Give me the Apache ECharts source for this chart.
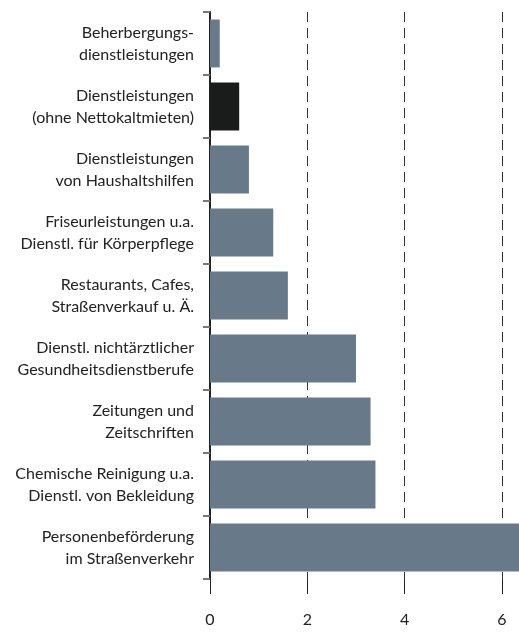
<!DOCTYPE html>
<html><head><meta charset="utf-8">
<script src="https://cdn.jsdelivr.net/npm/echarts@6/dist/echarts.min.js"></script>
<style>html,body{margin:0;padding:0;background:#fff;overflow:hidden}#c{width:519px;height:632px}</style>
</head><body><div id="c"></div>
<script>
var categories = [
  'Beherbergungs-\ndienstleistungen',
  'Dienstleistungen\n(ohne Nettokaltmieten)',
  'Dienstleistungen\nvon Haushaltshilfen',
  'Friseurleistungen u.a.\nDienstl. für Körperpflege',
  'Restaurants, Cafes,\nStraßenverkauf u. Ä.',
  'Dienstl. nichtärztlicher\nGesundheitsdienstberufe',
  'Zeitungen und\nZeitschriften',
  'Chemische Reinigung u.a.\nDienstl. von Bekleidung',
  'Personenbeförderung\nim Straßenverkehr'
];
var values = [0.2, 0.6, 0.8, 1.3, 1.6, 3.0, 3.3, 3.4, 6.4];
var highlightIndex = 1;
var xTicks = [0, 2, 4, 6];

var chart = echarts.init(document.getElementById('c'), null, {renderer: 'canvas'});
chart.setOption({
  animation: false,
  grid: {left: 210, right: 0, top: 12, bottom: 53, containLabel: false},
  xAxis: {
    type: 'value', min: 0, max: 6.35, interval: 2,
    axisLine: {show: false},
    axisTick: {show: true, length: 15, customValues: xTicks, lineStyle: {color: '#222', width: 1}},
    axisLabel: {
      margin: 33, color: '#222', fontSize: 16, fontFamily: 'Lato', customValues: xTicks
    },
    splitLine: {show: true, showMaxLine: true, showMinLine: false, lineStyle: {type: [10, 6], color: '#333', width: 1}}
  },
  yAxis: {
    type: 'category', data: categories, inverse: true,
    axisLine: {show: true, lineStyle: {color: '#222', width: 2}},
    axisTick: {show: true, length: 7, lineStyle: {color: '#777', width: 2}},
    axisLabel: {margin: 16, color: '#222', fontSize: 16, fontFamily: 'Lato', lineHeight: 22, align: 'right'}
  },
  series: [{
    type: 'bar', barCategoryGap: '24%', clip: true,
    data: values.map(function (v, i) {
      return {value: v, itemStyle: {color: i === highlightIndex ? '#1a1c1c' : '#687a8a'}};
    })
  }]
});
</script></body></html>
